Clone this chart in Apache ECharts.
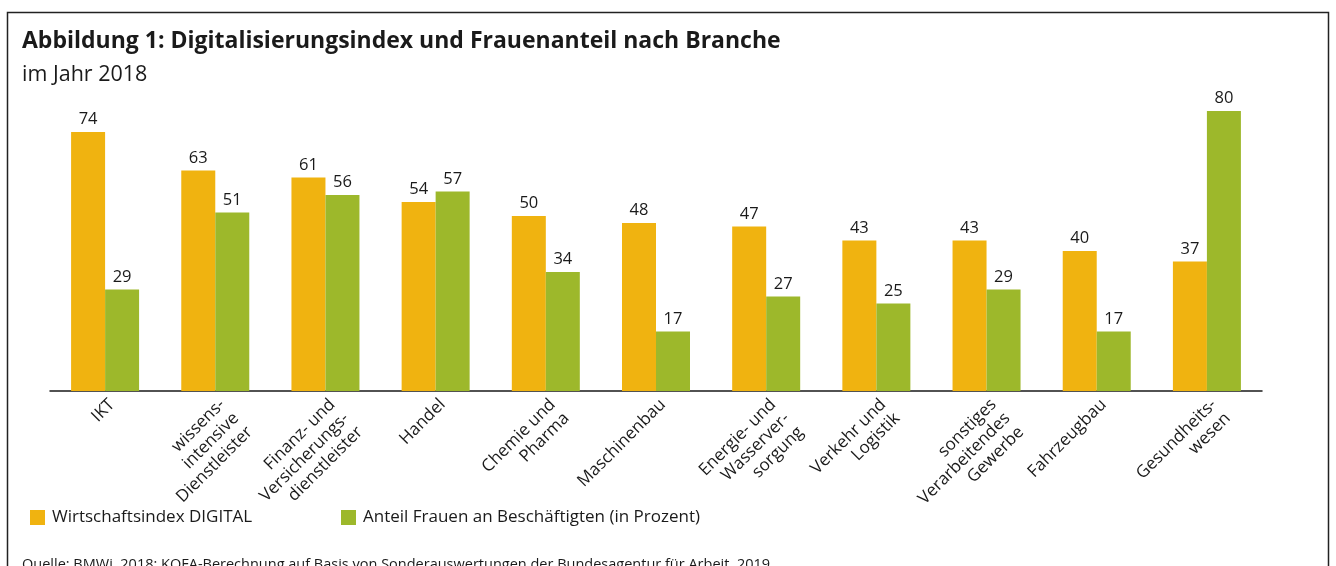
<!DOCTYPE html>
<html>
<head>
<meta charset="utf-8">
<script src="https://cdn.jsdelivr.net/npm/echarts@6/dist/echarts.min.js"></script>
<style>html,body{margin:0;padding:0;background:#fff;}#c{width:1336px;height:566px;}</style>
</head>
<body>
<div id="c"></div>
<script>
const categories = [
  "IKT",
  "wissens-\nintensive\nDienstleister",
  "Finanz- und\nVersicherungs-\ndienstleister",
  "Handel",
  "Chemie und\nPharma",
  "Maschinenbau",
  "Energie- und\nWasserver-\nsorgung",
  "Verkehr und\nLogistik",
  "sonstiges\nVerarbeitendes\nGewerbe",
  "Fahrzeugbau",
  "Gesundheits-\nwesen"
];
const digitalIndex = [74, 63, 61, 54, 50, 48, 47, 43, 43, 40, 37];
const frauenAnteil = [29, 51, 56, 57, 34, 17, 27, 25, 29, 17, 80];
const seriesNames = ["Wirtschaftsindex DIGITAL", "Anteil Frauen an Beschäftigten (in Prozent)"];
const titleText = "Abbildung 1: Digitalisierungsindex und Frauenanteil nach Branche";
const subtitleText = "im Jahr 2018";
const sourceText = "Quelle: BMWi, 2018; KOFA-Berechnung auf Basis von Sonderauswertungen der Bundesagentur für Arbeit, 2019";

const FONT = "'Open Sans', 'Noto Sans', sans-serif";
const TXT = "#1a1a1a";
const ORANGE = "#F0B310";
const GREEN = "#9DB82B";

const chart = echarts.init(document.getElementById('c'), null, {renderer: 'canvas'});
const labelStyle = {show: true, position: 'top', distance: 4, color: TXT, fontSize: 16.5, fontFamily: FONT};
chart.setOption({
  animation: false,
  backgroundColor: '#fff',
  textStyle: {fontFamily: FONT, color: TXT},
  title: [
    {text: titleText, left: 22, top: 30, padding: 0,
     textStyle: {fontSize: 23, fontWeight: 'bold', color: TXT, fontFamily: FONT}},
    {text: subtitleText, left: 22, top: 64, padding: 0,
     textStyle: {fontSize: 21.5, fontWeight: 'normal', color: TXT, fontFamily: FONT}},
    {text: sourceText, left: 22, top: 557, padding: 0,
     textStyle: {fontSize: 14.5, fontWeight: 'normal', color: TXT, fontFamily: FONT}}
  ],
  legend: [
    {data: [seriesNames[0]], left: 30, top: 509, padding: 0, itemWidth: 15, itemHeight: 15, itemGap: 0,
     icon: 'rect', textStyle: {fontSize: 17, color: TXT, fontFamily: FONT, padding: [0, 0, 0, 2]}},
    {data: [seriesNames[1]], left: 341, top: 509, padding: 0, itemWidth: 15, itemHeight: 15, itemGap: 0,
     icon: 'rect', textStyle: {fontSize: 17, color: TXT, fontFamily: FONT, padding: [0, 0, 0, 2]}}
  ],
  grid: {left: 50, right: 74, top: 111, bottom: 175, containLabel: false},
  xAxis: {
    type: 'category',
    data: categories,
    axisLine: {show: true, lineStyle: {color: '#1a1a1a', width: 1.5}},
    axisTick: {show: false},
    axisLabel: {
      interval: 0, rotate: 45, margin: 4, color: TXT, fontSize: 17, lineHeight: 19.5,
      fontFamily: FONT, align: 'right', verticalAlign: 'top'
    }
  },
  yAxis: {type: 'value', min: 0, max: 80, show: false, splitLine: {show: false}},
  series: [
    {name: seriesNames[0], type: 'bar', data: digitalIndex, barWidth: 34, barGap: '0%',
     itemStyle: {color: ORANGE}, label: labelStyle},
    {name: seriesNames[1], type: 'bar', data: frauenAnteil, barWidth: 34, barGap: '0%',
     itemStyle: {color: GREEN}, label: labelStyle}
  ],
  graphic: [
    {type: 'rect', silent: true, z: 100,
     shape: {x: 7.5, y: 12.5, width: 1321, height: 700},
     style: {fill: 'none', stroke: '#222', lineWidth: 1.5}}
  ]
});
</script>
</body>
</html>
